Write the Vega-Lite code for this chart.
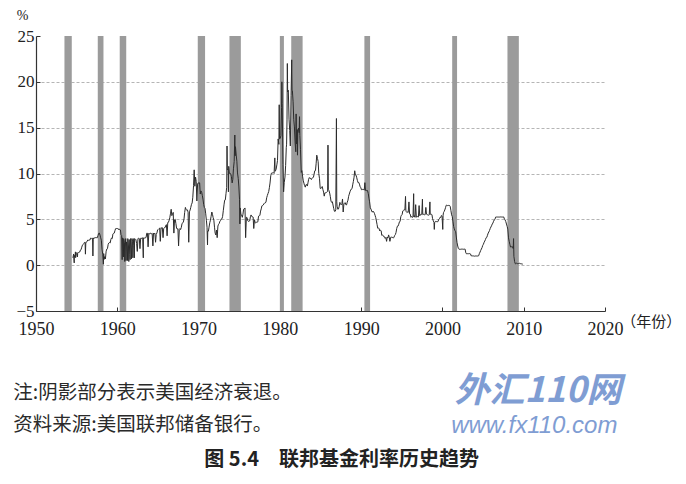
{
  "$schema": "https://vega.github.io/schema/vega-lite/v6.json",
  "width": 569,
  "height": 275,
  "autosize": "none",
  "padding": {"left": 36, "top": 36, "right": 81, "bottom": 173},
  "background": "white",
  "config": {
    "view": {"stroke": null},
    "font": "Liberation Serif"
  },
  "layer": [
    {
      "data": {"values": [
        {"start": 1953.5, "end": 1954.4},
        {"start": 1957.6, "end": 1958.3},
        {"start": 1960.3, "end": 1961.1},
        {"start": 1969.9, "end": 1970.8},
        {"start": 1973.8, "end": 1975.2},
        {"start": 1980.0, "end": 1980.5},
        {"start": 1981.4, "end": 1982.8},
        {"start": 1990.4, "end": 1991.1},
        {"start": 2001.2, "end": 2001.8},
        {"start": 2008.0, "end": 2009.4}
      ]},
      "mark": {"type": "rect", "color": "#9b9b9b"},
      "encoding": {
        "x": {
          "field": "start", "type": "quantitative",
          "scale": {"domain": [1950, 2020], "nice": false, "zero": false},
          "axis": {
            "values": [1950, 1960, 1970, 1980, 1990, 2000, 2010, 2020],
            "format": "d", "title": null, "grid": false,
            "domainColor": "#333", "domainWidth": 1.2,
            "tickColor": "#333", "tickSize": -4,
            "labelFont": "Liberation Serif", "labelFontSize": 18, "labelColor": "#222",
            "labelPadding": 13, "labelFlush": false
          }
        },
        "x2": {"field": "end"}
      }
    },
    {
      "data": {"values": [
        {"t": 1954.54, "v": 0.8}, {"t": 1954.63, "v": 1.22}, {"t": 1954.7, "v": 0.25}, {"t": 1954.71, "v": 1.07},
        {"t": 1954.79, "v": 0.85}, {"t": 1954.85, "v": 1.45}, {"t": 1954.88, "v": 0.83}, {"t": 1954.96, "v": 1.28},
        {"t": 1955.04, "v": 1.39}, {"t": 1955.1, "v": 0.9}, {"t": 1955.13, "v": 1.29}, {"t": 1955.21, "v": 1.35}, {"t": 1955.29, "v": 1.43},
        {"t": 1955.38, "v": 1.43}, {"t": 1955.46, "v": 1.64}, {"t": 1955.54, "v": 1.68}, {"t": 1955.63, "v": 1.96},
        {"t": 1955.71, "v": 2.18}, {"t": 1955.79, "v": 2.24}, {"t": 1955.88, "v": 2.35}, {"t": 1955.96, "v": 2.48},
        {"t": 1956.04, "v": 2.45}, {"t": 1956.08, "v": 1.2}, {"t": 1956.13, "v": 2.5}, {"t": 1956.21, "v": 2.5}, {"t": 1956.29, "v": 2.62},
        {"t": 1956.38, "v": 2.75}, {"t": 1956.46, "v": 2.71}, {"t": 1956.54, "v": 2.75}, {"t": 1956.63, "v": 2.73},
        {"t": 1956.71, "v": 2.95}, {"t": 1956.79, "v": 2.96}, {"t": 1956.88, "v": 2.88}, {"t": 1956.96, "v": 2.94},
        {"t": 1957.0, "v": 1.0}, {"t": 1957.04, "v": 2.84}, {"t": 1957.13, "v": 3.0}, {"t": 1957.21, "v": 2.96}, {"t": 1957.29, "v": 3.0},
        {"t": 1957.38, "v": 3.0}, {"t": 1957.46, "v": 3.0}, {"t": 1957.54, "v": 2.99}, {"t": 1957.63, "v": 3.24},
        {"t": 1957.71, "v": 3.47}, {"t": 1957.79, "v": 3.5}, {"t": 1957.88, "v": 3.28}, {"t": 1957.96, "v": 2.98},
        {"t": 1958.04, "v": 2.72}, {"t": 1958.13, "v": 1.67}, {"t": 1958.21, "v": 1.2}, {"t": 1958.29, "v": 0.1},
        {"t": 1958.33, "v": 1.26}, {"t": 1958.38, "v": 0.63}, {"t": 1958.46, "v": 0.93}, {"t": 1958.54, "v": 0.68},
        {"t": 1958.63, "v": 1.53}, {"t": 1958.71, "v": 1.76}, {"t": 1958.79, "v": 1.8}, {"t": 1958.88, "v": 2.27},
        {"t": 1958.96, "v": 2.42}, {"t": 1959.04, "v": 2.48}, {"t": 1959.13, "v": 2.43}, {"t": 1959.21, "v": 2.8},
        {"t": 1959.29, "v": 2.96}, {"t": 1959.38, "v": 2.9}, {"t": 1959.46, "v": 3.39}, {"t": 1959.54, "v": 3.47},
        {"t": 1959.63, "v": 3.5}, {"t": 1959.71, "v": 3.76}, {"t": 1959.79, "v": 3.98}, {"t": 1959.88, "v": 4.0},
        {"t": 1959.96, "v": 3.99}, {"t": 1960.04, "v": 3.99}, {"t": 1960.13, "v": 3.97}, {"t": 1960.21, "v": 3.84},
        {"t": 1960.29, "v": 3.92}, {"t": 1960.38, "v": 3.85}, {"t": 1960.46, "v": 3.32}, {"t": 1960.54, "v": 3.23},
        {"t": 1960.6, "v": 0.6}, {"t": 1960.63, "v": 2.98}, {"t": 1960.71, "v": 2.6}, {"t": 1960.75, "v": 0.9}, {"t": 1960.79, "v": 2.9},
        {"t": 1960.88, "v": 2.44}, {"t": 1960.92, "v": 0.4}, {"t": 1960.96, "v": 1.98}, {"t": 1961.04, "v": 2.9}, {"t": 1961.08, "v": 0.5},
        {"t": 1961.13, "v": 2.54}, {"t": 1961.21, "v": 2.02}, {"t": 1961.25, "v": 0.5}, {"t": 1961.29, "v": 2.9},
        {"t": 1961.38, "v": 1.98}, {"t": 1961.42, "v": 0.4}, {"t": 1961.46, "v": 2.8}, {"t": 1961.54, "v": 1.17},
        {"t": 1961.58, "v": 0.6}, {"t": 1961.63, "v": 2.9}, {"t": 1961.71, "v": 1.88}, {"t": 1961.75, "v": 0.7},
        {"t": 1961.79, "v": 2.9}, {"t": 1961.88, "v": 2.61}, {"t": 1961.92, "v": 0.8}, {"t": 1961.96, "v": 2.9},
        {"t": 1962.04, "v": 2.15}, {"t": 1962.1, "v": 0.8}, {"t": 1962.13, "v": 2.9}, {"t": 1962.21, "v": 2.85}, {"t": 1962.29, "v": 2.78},
        {"t": 1962.38, "v": 2.36}, {"t": 1962.46, "v": 1.5}, {"t": 1962.54, "v": 2.9}, {"t": 1962.63, "v": 2.93},
        {"t": 1962.71, "v": 2.9}, {"t": 1962.79, "v": 1.8}, {"t": 1962.88, "v": 2.94}, {"t": 1962.96, "v": 2.93},
        {"t": 1963.04, "v": 2.92}, {"t": 1963.13, "v": 3.0}, {"t": 1963.2, "v": 0.8}, {"t": 1963.21, "v": 2.98}, {"t": 1963.29, "v": 2.9},
        {"t": 1963.38, "v": 3.0}, {"t": 1963.46, "v": 2.99}, {"t": 1963.54, "v": 3.02}, {"t": 1963.63, "v": 3.49},
        {"t": 1963.71, "v": 3.48}, {"t": 1963.79, "v": 2.0}, {"t": 1963.88, "v": 3.48}, {"t": 1963.96, "v": 3.38},
        {"t": 1964.04, "v": 3.48}, {"t": 1964.13, "v": 3.48}, {"t": 1964.21, "v": 3.43}, {"t": 1964.29, "v": 3.47},
        {"t": 1964.38, "v": 2.1}, {"t": 1964.46, "v": 3.5}, {"t": 1964.54, "v": 3.42}, {"t": 1964.63, "v": 3.5},
        {"t": 1964.71, "v": 2.5}, {"t": 1964.79, "v": 3.36}, {"t": 1964.88, "v": 3.52}, {"t": 1964.96, "v": 3.85},
        {"t": 1965.04, "v": 3.9}, {"t": 1965.13, "v": 3.98}, {"t": 1965.21, "v": 4.04}, {"t": 1965.29, "v": 2.6},
        {"t": 1965.38, "v": 4.1}, {"t": 1965.46, "v": 4.04}, {"t": 1965.54, "v": 4.09}, {"t": 1965.63, "v": 3.0},
        {"t": 1965.71, "v": 4.01}, {"t": 1965.79, "v": 4.08}, {"t": 1965.88, "v": 4.1}, {"t": 1965.96, "v": 4.32},
        {"t": 1966.04, "v": 4.42}, {"t": 1966.13, "v": 3.2}, {"t": 1966.21, "v": 4.65}, {"t": 1966.29, "v": 4.67},
        {"t": 1966.38, "v": 4.9}, {"t": 1966.46, "v": 5.17}, {"t": 1966.54, "v": 5.6}, {"t": 1966.63, "v": 6.1},
        {"t": 1966.71, "v": 5.4}, {"t": 1966.79, "v": 5.53}, {"t": 1966.88, "v": 5.76}, {"t": 1966.96, "v": 3.5},
        {"t": 1967.04, "v": 4.94}, {"t": 1967.13, "v": 5.0}, {"t": 1967.21, "v": 4.53}, {"t": 1967.29, "v": 4.05},
        {"t": 1967.38, "v": 3.94}, {"t": 1967.46, "v": 3.98}, {"t": 1967.54, "v": 2.1}, {"t": 1967.63, "v": 3.9},
        {"t": 1967.71, "v": 3.99}, {"t": 1967.79, "v": 3.88}, {"t": 1967.88, "v": 4.13}, {"t": 1967.96, "v": 4.51},
        {"t": 1968.04, "v": 4.61}, {"t": 1968.13, "v": 4.71}, {"t": 1968.21, "v": 5.05}, {"t": 1968.29, "v": 5.76},
        {"t": 1968.38, "v": 6.3}, {"t": 1968.46, "v": 6.07}, {"t": 1968.54, "v": 6.02}, {"t": 1968.63, "v": 6.03},
        {"t": 1968.71, "v": 5.78}, {"t": 1968.79, "v": 2.5}, {"t": 1968.88, "v": 5.82}, {"t": 1968.96, "v": 6.02},
        {"t": 1969.04, "v": 6.3}, {"t": 1969.13, "v": 6.64}, {"t": 1969.21, "v": 6.79}, {"t": 1969.29, "v": 7.41},
        {"t": 1969.38, "v": 8.67}, {"t": 1969.46, "v": 10.4}, {"t": 1969.54, "v": 8.61}, {"t": 1969.63, "v": 9.6},
        {"t": 1969.71, "v": 9.15}, {"t": 1969.79, "v": 7.0}, {"t": 1969.88, "v": 8.85}, {"t": 1969.96, "v": 8.97},
        {"t": 1970.04, "v": 8.98}, {"t": 1970.13, "v": 8.98}, {"t": 1970.21, "v": 7.76}, {"t": 1970.29, "v": 8.1},
        {"t": 1970.38, "v": 7.95}, {"t": 1970.46, "v": 7.61}, {"t": 1970.54, "v": 7.21}, {"t": 1970.63, "v": 6.61},
        {"t": 1970.71, "v": 6.29}, {"t": 1970.79, "v": 6.2}, {"t": 1970.88, "v": 5.6}, {"t": 1970.96, "v": 4.9},
        {"t": 1971.04, "v": 4.14}, {"t": 1971.1, "v": 2.2}, {"t": 1971.13, "v": 3.72}, {"t": 1971.21, "v": 3.71}, {"t": 1971.29, "v": 4.15},
        {"t": 1971.38, "v": 4.63}, {"t": 1971.46, "v": 4.91}, {"t": 1971.54, "v": 5.31}, {"t": 1971.63, "v": 5.8},
        {"t": 1971.71, "v": 5.55}, {"t": 1971.79, "v": 5.2}, {"t": 1971.88, "v": 4.91}, {"t": 1971.96, "v": 4.14},
        {"t": 1972.04, "v": 3.5}, {"t": 1972.13, "v": 3.29}, {"t": 1972.21, "v": 3.83}, {"t": 1972.29, "v": 3.0},
        {"t": 1972.38, "v": 4.27}, {"t": 1972.46, "v": 4.46}, {"t": 1972.54, "v": 4.55}, {"t": 1972.63, "v": 4.8},
        {"t": 1972.71, "v": 4.87}, {"t": 1972.79, "v": 5.04}, {"t": 1972.88, "v": 5.06}, {"t": 1972.96, "v": 5.33},
        {"t": 1973.04, "v": 5.94}, {"t": 1973.13, "v": 6.58}, {"t": 1973.21, "v": 7.09}, {"t": 1973.29, "v": 7.12},
        {"t": 1973.38, "v": 7.84}, {"t": 1973.46, "v": 8.49}, {"t": 1973.5, "v": 13.0}, {"t": 1973.54, "v": 10.4},
        {"t": 1973.63, "v": 10.5}, {"t": 1973.67, "v": 8.0}, {"t": 1973.71, "v": 10.78}, {"t": 1973.79, "v": 10.01},
        {"t": 1973.88, "v": 10.03}, {"t": 1973.96, "v": 9.95}, {"t": 1974.04, "v": 9.65}, {"t": 1974.13, "v": 8.97},
        {"t": 1974.21, "v": 9.35}, {"t": 1974.29, "v": 10.51}, {"t": 1974.38, "v": 11.31}, {"t": 1974.46, "v": 14.2},
        {"t": 1974.5, "v": 11.93}, {"t": 1974.54, "v": 12.92}, {"t": 1974.63, "v": 12.01}, {"t": 1974.71, "v": 11.34},
        {"t": 1974.79, "v": 10.06}, {"t": 1974.88, "v": 9.45}, {"t": 1974.96, "v": 8.53}, {"t": 1975.04, "v": 7.13},
        {"t": 1975.08, "v": 4.5}, {"t": 1975.13, "v": 6.24}, {"t": 1975.21, "v": 5.54}, {"t": 1975.29, "v": 5.49}, {"t": 1975.38, "v": 5.22},
        {"t": 1975.46, "v": 5.55}, {"t": 1975.54, "v": 6.1}, {"t": 1975.63, "v": 6.14}, {"t": 1975.71, "v": 6.24},
        {"t": 1975.79, "v": 3.0}, {"t": 1975.88, "v": 5.22}, {"t": 1975.96, "v": 5.2}, {"t": 1976.04, "v": 4.87},
        {"t": 1976.13, "v": 4.77}, {"t": 1976.21, "v": 4.84}, {"t": 1976.29, "v": 4.82}, {"t": 1976.38, "v": 5.29},
        {"t": 1976.46, "v": 5.48}, {"t": 1976.54, "v": 5.31}, {"t": 1976.63, "v": 5.29}, {"t": 1976.71, "v": 5.25},
        {"t": 1976.79, "v": 4.0}, {"t": 1976.88, "v": 4.95}, {"t": 1976.96, "v": 4.65}, {"t": 1977.04, "v": 4.61},
        {"t": 1977.13, "v": 4.68}, {"t": 1977.21, "v": 4.69}, {"t": 1977.29, "v": 4.73}, {"t": 1977.38, "v": 5.35},
        {"t": 1977.46, "v": 5.39}, {"t": 1977.54, "v": 5.42}, {"t": 1977.63, "v": 5.9}, {"t": 1977.71, "v": 6.14},
        {"t": 1977.79, "v": 6.47}, {"t": 1977.88, "v": 6.51}, {"t": 1977.96, "v": 6.56}, {"t": 1978.04, "v": 6.7},
        {"t": 1978.13, "v": 6.78}, {"t": 1978.21, "v": 6.79}, {"t": 1978.29, "v": 6.89}, {"t": 1978.38, "v": 7.36},
        {"t": 1978.46, "v": 7.6}, {"t": 1978.54, "v": 7.81}, {"t": 1978.63, "v": 8.04}, {"t": 1978.71, "v": 8.45},
        {"t": 1978.79, "v": 8.96}, {"t": 1978.88, "v": 9.76}, {"t": 1978.96, "v": 10.03}, {"t": 1979.04, "v": 10.07},
        {"t": 1979.13, "v": 10.06}, {"t": 1979.21, "v": 10.09}, {"t": 1979.29, "v": 10.01}, {"t": 1979.38, "v": 11.7},
        {"t": 1979.42, "v": 10.24}, {"t": 1979.46, "v": 10.29}, {"t": 1979.54, "v": 10.47}, {"t": 1979.63, "v": 10.94},
        {"t": 1979.71, "v": 11.43}, {"t": 1979.79, "v": 13.77}, {"t": 1979.88, "v": 13.18}, {"t": 1979.92, "v": 17.5},
        {"t": 1979.96, "v": 13.78}, {"t": 1980.04, "v": 13.82}, {"t": 1980.13, "v": 14.13}, {"t": 1980.21, "v": 17.19},
        {"t": 1980.25, "v": 20.0}, {"t": 1980.29, "v": 17.61}, {"t": 1980.38, "v": 10.98}, {"t": 1980.46, "v": 8.0},
        {"t": 1980.54, "v": 9.03}, {"t": 1980.63, "v": 9.61}, {"t": 1980.71, "v": 10.87}, {"t": 1980.79, "v": 12.81},
        {"t": 1980.83, "v": 13.2}, {"t": 1980.88, "v": 15.85}, {"t": 1980.92, "v": 22.0}, {"t": 1980.96, "v": 18.9},
        {"t": 1981.04, "v": 19.08}, {"t": 1981.13, "v": 15.93}, {"t": 1981.21, "v": 14.7}, {"t": 1981.29, "v": 13.0},
        {"t": 1981.38, "v": 18.52}, {"t": 1981.46, "v": 22.4}, {"t": 1981.5, "v": 19.1}, {"t": 1981.54, "v": 19.04},
        {"t": 1981.63, "v": 17.82}, {"t": 1981.71, "v": 15.87}, {"t": 1981.79, "v": 15.08}, {"t": 1981.88, "v": 13.31},
        {"t": 1981.96, "v": 12.37}, {"t": 1982.0, "v": 16.5}, {"t": 1982.04, "v": 13.22}, {"t": 1982.13, "v": 14.78},
        {"t": 1982.17, "v": 12.0}, {"t": 1982.21, "v": 14.68}, {"t": 1982.29, "v": 14.94}, {"t": 1982.38, "v": 14.45},
        {"t": 1982.42, "v": 16.2}, {"t": 1982.46, "v": 14.15}, {"t": 1982.54, "v": 12.59}, {"t": 1982.63, "v": 10.12},
        {"t": 1982.71, "v": 10.31}, {"t": 1982.79, "v": 9.71}, {"t": 1982.88, "v": 9.2}, {"t": 1982.96, "v": 8.95},
        {"t": 1983.04, "v": 8.68}, {"t": 1983.13, "v": 8.51}, {"t": 1983.21, "v": 8.77}, {"t": 1983.29, "v": 8.8},
        {"t": 1983.38, "v": 8.63}, {"t": 1983.46, "v": 8.98}, {"t": 1983.54, "v": 9.37}, {"t": 1983.63, "v": 9.56},
        {"t": 1983.71, "v": 9.45}, {"t": 1983.79, "v": 9.48}, {"t": 1983.88, "v": 9.34}, {"t": 1983.96, "v": 9.47},
        {"t": 1984.04, "v": 9.56}, {"t": 1984.13, "v": 9.59}, {"t": 1984.21, "v": 9.91}, {"t": 1984.29, "v": 10.29},
        {"t": 1984.38, "v": 10.32}, {"t": 1984.46, "v": 11.06}, {"t": 1984.54, "v": 12.0}, {"t": 1984.63, "v": 11.64},
        {"t": 1984.71, "v": 11.3}, {"t": 1984.79, "v": 9.99}, {"t": 1984.88, "v": 9.43}, {"t": 1984.96, "v": 8.38},
        {"t": 1985.04, "v": 8.35}, {"t": 1985.13, "v": 8.5}, {"t": 1985.21, "v": 8.58}, {"t": 1985.29, "v": 8.27},
        {"t": 1985.38, "v": 7.97}, {"t": 1985.46, "v": 7.53}, {"t": 1985.54, "v": 7.88}, {"t": 1985.63, "v": 7.9},
        {"t": 1985.71, "v": 7.92}, {"t": 1985.79, "v": 7.99}, {"t": 1985.88, "v": 8.05}, {"t": 1985.92, "v": 13.1},
        {"t": 1985.96, "v": 8.27}, {"t": 1986.04, "v": 8.14}, {"t": 1986.13, "v": 7.86}, {"t": 1986.21, "v": 7.48},
        {"t": 1986.29, "v": 6.99}, {"t": 1986.38, "v": 6.85}, {"t": 1986.46, "v": 6.92}, {"t": 1986.54, "v": 6.56},
        {"t": 1986.63, "v": 6.17}, {"t": 1986.71, "v": 5.89}, {"t": 1986.79, "v": 5.85}, {"t": 1986.88, "v": 6.04},
        {"t": 1986.96, "v": 16.0}, {"t": 1987.0, "v": 6.91}, {"t": 1987.04, "v": 6.43}, {"t": 1987.13, "v": 6.1},
        {"t": 1987.21, "v": 6.13}, {"t": 1987.29, "v": 6.37}, {"t": 1987.38, "v": 6.85}, {"t": 1987.46, "v": 6.73},
        {"t": 1987.54, "v": 6.58}, {"t": 1987.63, "v": 6.73}, {"t": 1987.71, "v": 7.22}, {"t": 1987.79, "v": 5.8},
        {"t": 1987.88, "v": 6.69}, {"t": 1987.96, "v": 6.77}, {"t": 1988.04, "v": 6.83}, {"t": 1988.13, "v": 6.58},
        {"t": 1988.21, "v": 6.58}, {"t": 1988.29, "v": 6.87}, {"t": 1988.38, "v": 7.09}, {"t": 1988.46, "v": 7.51},
        {"t": 1988.54, "v": 7.75}, {"t": 1988.63, "v": 8.01}, {"t": 1988.71, "v": 8.19}, {"t": 1988.79, "v": 8.3},
        {"t": 1988.88, "v": 8.35}, {"t": 1988.96, "v": 8.76}, {"t": 1989.04, "v": 9.12}, {"t": 1989.13, "v": 9.6},
        {"t": 1989.21, "v": 10.3}, {"t": 1989.29, "v": 9.84}, {"t": 1989.38, "v": 9.81}, {"t": 1989.46, "v": 9.53},
        {"t": 1989.54, "v": 9.24}, {"t": 1989.63, "v": 8.99}, {"t": 1989.71, "v": 9.02}, {"t": 1989.79, "v": 8.84},
        {"t": 1989.88, "v": 8.55}, {"t": 1989.96, "v": 8.45}, {"t": 1990.04, "v": 8.23}, {"t": 1990.13, "v": 8.24},
        {"t": 1990.21, "v": 8.28}, {"t": 1990.29, "v": 8.26}, {"t": 1990.38, "v": 8.18}, {"t": 1990.46, "v": 9.0},
        {"t": 1990.54, "v": 8.15}, {"t": 1990.63, "v": 8.13}, {"t": 1990.71, "v": 8.2}, {"t": 1990.79, "v": 8.11},
        {"t": 1990.88, "v": 7.81}, {"t": 1990.96, "v": 7.31}, {"t": 1991.04, "v": 6.91}, {"t": 1991.13, "v": 6.25},
        {"t": 1991.21, "v": 6.12}, {"t": 1991.29, "v": 5.91}, {"t": 1991.38, "v": 5.78}, {"t": 1991.46, "v": 5.9},
        {"t": 1991.54, "v": 5.82}, {"t": 1991.63, "v": 5.66}, {"t": 1991.71, "v": 5.45}, {"t": 1991.79, "v": 5.21},
        {"t": 1991.88, "v": 4.81}, {"t": 1991.96, "v": 4.43}, {"t": 1992.04, "v": 4.03}, {"t": 1992.13, "v": 4.06},
        {"t": 1992.21, "v": 3.98}, {"t": 1992.29, "v": 3.73}, {"t": 1992.38, "v": 3.82}, {"t": 1992.46, "v": 3.76},
        {"t": 1992.54, "v": 3.25}, {"t": 1992.63, "v": 3.3}, {"t": 1992.71, "v": 3.22}, {"t": 1992.79, "v": 3.1},
        {"t": 1992.88, "v": 3.09}, {"t": 1992.96, "v": 2.92}, {"t": 1993.04, "v": 3.02}, {"t": 1993.13, "v": 2.6},
        {"t": 1993.21, "v": 3.07}, {"t": 1993.29, "v": 2.96}, {"t": 1993.38, "v": 3.3}, {"t": 1993.46, "v": 3.04},
        {"t": 1993.54, "v": 2.6}, {"t": 1993.63, "v": 3.03}, {"t": 1993.71, "v": 3.09}, {"t": 1993.79, "v": 2.99},
        {"t": 1993.88, "v": 3.02}, {"t": 1993.96, "v": 2.96}, {"t": 1994.04, "v": 3.05}, {"t": 1994.13, "v": 3.25},
        {"t": 1994.21, "v": 3.34}, {"t": 1994.29, "v": 3.56}, {"t": 1994.38, "v": 4.01}, {"t": 1994.46, "v": 4.25},
        {"t": 1994.54, "v": 4.26}, {"t": 1994.63, "v": 4.47}, {"t": 1994.71, "v": 4.73}, {"t": 1994.79, "v": 4.76},
        {"t": 1994.88, "v": 5.29}, {"t": 1994.96, "v": 5.45}, {"t": 1995.04, "v": 5.53}, {"t": 1995.13, "v": 5.92},
        {"t": 1995.21, "v": 5.98}, {"t": 1995.29, "v": 6.05}, {"t": 1995.38, "v": 6.01}, {"t": 1995.46, "v": 7.5},
        {"t": 1995.5, "v": 6.0}, {"t": 1995.54, "v": 5.85}, {"t": 1995.63, "v": 5.74}, {"t": 1995.71, "v": 5.8},
        {"t": 1995.79, "v": 5.76}, {"t": 1995.88, "v": 6.9}, {"t": 1995.96, "v": 5.6}, {"t": 1996.04, "v": 5.56},
        {"t": 1996.13, "v": 5.22}, {"t": 1996.21, "v": 5.31}, {"t": 1996.29, "v": 5.22}, {"t": 1996.38, "v": 5.24},
        {"t": 1996.46, "v": 7.8}, {"t": 1996.5, "v": 5.27}, {"t": 1996.54, "v": 5.4}, {"t": 1996.63, "v": 5.22},
        {"t": 1996.71, "v": 6.6}, {"t": 1996.79, "v": 5.24}, {"t": 1996.88, "v": 5.31}, {"t": 1996.96, "v": 5.29},
        {"t": 1997.04, "v": 5.25}, {"t": 1997.13, "v": 6.5}, {"t": 1997.21, "v": 5.39}, {"t": 1997.29, "v": 5.51},
        {"t": 1997.38, "v": 5.5}, {"t": 1997.46, "v": 5.56}, {"t": 1997.54, "v": 7.2}, {"t": 1997.58, "v": 5.52},
        {"t": 1997.63, "v": 5.54}, {"t": 1997.71, "v": 5.54}, {"t": 1997.79, "v": 5.5}, {"t": 1997.88, "v": 5.52},
        {"t": 1997.96, "v": 6.3}, {"t": 1998.04, "v": 5.56}, {"t": 1998.13, "v": 5.51}, {"t": 1998.21, "v": 5.49},
        {"t": 1998.29, "v": 5.45}, {"t": 1998.38, "v": 5.49}, {"t": 1998.46, "v": 6.9}, {"t": 1998.5, "v": 5.56},
        {"t": 1998.54, "v": 5.54}, {"t": 1998.63, "v": 5.55}, {"t": 1998.71, "v": 5.51}, {"t": 1998.79, "v": 5.07},
        {"t": 1998.88, "v": 4.83}, {"t": 1998.96, "v": 4.68}, {"t": 1999.0, "v": 3.9}, {"t": 1999.04, "v": 4.63},
        {"t": 1999.13, "v": 4.76}, {"t": 1999.21, "v": 4.81}, {"t": 1999.29, "v": 4.74}, {"t": 1999.38, "v": 4.74},
        {"t": 1999.46, "v": 4.76}, {"t": 1999.54, "v": 4.99}, {"t": 1999.63, "v": 5.07}, {"t": 1999.71, "v": 5.22},
        {"t": 1999.79, "v": 5.2}, {"t": 1999.88, "v": 5.42}, {"t": 1999.96, "v": 5.3}, {"t": 2000.04, "v": 3.9},
        {"t": 2000.08, "v": 5.45}, {"t": 2000.13, "v": 5.73}, {"t": 2000.21, "v": 5.85}, {"t": 2000.29, "v": 6.02},
        {"t": 2000.38, "v": 6.27}, {"t": 2000.46, "v": 6.53}, {"t": 2000.54, "v": 6.54}, {"t": 2000.63, "v": 6.5},
        {"t": 2000.71, "v": 6.52}, {"t": 2000.79, "v": 6.51}, {"t": 2000.88, "v": 6.51}, {"t": 2000.96, "v": 6.4},
        {"t": 2001.04, "v": 5.98}, {"t": 2001.13, "v": 5.49}, {"t": 2001.21, "v": 5.31}, {"t": 2001.29, "v": 4.8},
        {"t": 2001.38, "v": 4.21}, {"t": 2001.46, "v": 3.97}, {"t": 2001.54, "v": 3.77}, {"t": 2001.63, "v": 3.65},
        {"t": 2001.71, "v": 3.07}, {"t": 2001.79, "v": 2.49}, {"t": 2001.88, "v": 2.09}, {"t": 2001.96, "v": 1.82},
        {"t": 2002.04, "v": 1.73}, {"t": 2002.13, "v": 1.74}, {"t": 2002.21, "v": 1.73}, {"t": 2002.29, "v": 1.75},
        {"t": 2002.38, "v": 1.75}, {"t": 2002.46, "v": 1.75}, {"t": 2002.54, "v": 1.73}, {"t": 2002.63, "v": 1.74},
        {"t": 2002.71, "v": 1.75}, {"t": 2002.79, "v": 1.75}, {"t": 2002.88, "v": 1.34}, {"t": 2002.96, "v": 1.24},
        {"t": 2003.04, "v": 1.24}, {"t": 2003.13, "v": 1.26}, {"t": 2003.21, "v": 1.25}, {"t": 2003.29, "v": 1.26},
        {"t": 2003.38, "v": 1.26}, {"t": 2003.46, "v": 1.22}, {"t": 2003.54, "v": 1.01}, {"t": 2003.63, "v": 1.03},
        {"t": 2003.71, "v": 1.01}, {"t": 2003.79, "v": 1.01}, {"t": 2003.88, "v": 1.0}, {"t": 2003.96, "v": 0.98},
        {"t": 2004.04, "v": 1.0}, {"t": 2004.13, "v": 1.01}, {"t": 2004.21, "v": 1.0}, {"t": 2004.29, "v": 1.0},
        {"t": 2004.38, "v": 1.0}, {"t": 2004.46, "v": 1.03}, {"t": 2004.54, "v": 1.26}, {"t": 2004.63, "v": 1.43},
        {"t": 2004.71, "v": 1.61}, {"t": 2004.79, "v": 1.76}, {"t": 2004.88, "v": 1.93}, {"t": 2004.96, "v": 2.16},
        {"t": 2005.04, "v": 2.28}, {"t": 2005.13, "v": 2.5}, {"t": 2005.21, "v": 2.63}, {"t": 2005.29, "v": 2.79},
        {"t": 2005.38, "v": 3.0}, {"t": 2005.46, "v": 3.04}, {"t": 2005.54, "v": 3.26}, {"t": 2005.63, "v": 3.5},
        {"t": 2005.71, "v": 3.62}, {"t": 2005.79, "v": 3.78}, {"t": 2005.88, "v": 4.0}, {"t": 2005.96, "v": 4.16},
        {"t": 2006.04, "v": 4.29}, {"t": 2006.13, "v": 4.49}, {"t": 2006.21, "v": 4.59}, {"t": 2006.29, "v": 4.79},
        {"t": 2006.38, "v": 4.94}, {"t": 2006.46, "v": 4.99}, {"t": 2006.54, "v": 5.24}, {"t": 2006.63, "v": 5.25},
        {"t": 2006.71, "v": 5.25}, {"t": 2006.79, "v": 5.25}, {"t": 2006.88, "v": 5.25}, {"t": 2006.96, "v": 5.24},
        {"t": 2007.04, "v": 5.25}, {"t": 2007.13, "v": 5.26}, {"t": 2007.21, "v": 5.26}, {"t": 2007.29, "v": 5.25},
        {"t": 2007.38, "v": 5.25}, {"t": 2007.46, "v": 5.25}, {"t": 2007.54, "v": 5.26}, {"t": 2007.63, "v": 5.02},
        {"t": 2007.71, "v": 4.94}, {"t": 2007.79, "v": 4.76}, {"t": 2007.88, "v": 4.49}, {"t": 2007.96, "v": 4.24},
        {"t": 2008.04, "v": 3.94}, {"t": 2008.13, "v": 2.98}, {"t": 2008.21, "v": 2.61}, {"t": 2008.29, "v": 2.28},
        {"t": 2008.38, "v": 1.98}, {"t": 2008.46, "v": 2.0}, {"t": 2008.54, "v": 2.01}, {"t": 2008.63, "v": 2.0},
        {"t": 2008.71, "v": 1.81}, {"t": 2008.75, "v": 2.9}, {"t": 2008.79, "v": 0.97}, {"t": 2008.88, "v": 0.39}, {"t": 2008.96, "v": 0.16},
        {"t": 2009.04, "v": 0.15}, {"t": 2009.13, "v": 0.22}, {"t": 2009.21, "v": 0.18}, {"t": 2009.29, "v": 0.15},
        {"t": 2009.38, "v": 0.18}, {"t": 2009.46, "v": 0.21}, {"t": 2009.54, "v": 0.16}, {"t": 2009.63, "v": 0.16},
        {"t": 2009.71, "v": 0.15}, {"t": 2009.79, "v": 0.12}, {"t": 2009.88, "v": 0.12}
      ]},
      "mark": {"type": "line", "color": "#2b2b2b", "strokeWidth": 1, "interpolate": "linear"},
      "encoding": {
        "x": {"field": "t", "type": "quantitative"},
        "y": {
          "field": "v", "type": "quantitative",
          "scale": {"domain": [-5, 25], "nice": false, "zero": false},
          "axis": {
            "values": [-5, 0, 5, 10, 15, 20, 25],
            "title": "%", "titleAngle": 0, "titleX": -14, "titleY": -21,
            "titleAlign": "center", "titleBaseline": "middle",
            "titleFont": "Liberation Serif", "titleFontSize": 14, "titleFontWeight": "normal", "titleColor": "#222",
            "grid": true, "gridColor": "#b5b5b5", "gridDash": [3, 2], "gridWidth": 1,
            "gridOpacity": {"condition": {"test": "datum.value == 25 || datum.value == -5", "value": 0}, "value": 1},
            "domainColor": "#333", "domainWidth": 1.2,
            "tickColor": "#333", "tickSize": -4,
            "labelFont": "Liberation Serif", "labelFontSize": 17, "labelColor": "#222",
            "labelPadding": 6
          }
        }
      }
    },
    {
      "data": {"values": [{"x": 2022.0, "y": -6.2, "text": "（年份）"}]},
      "mark": {"type": "text", "align": "left", "baseline": "middle", "font": "Noto Sans CJK SC", "fontSize": 15, "color": "#222"},
      "encoding": {
        "x": {"field": "x", "type": "quantitative"},
        "y": {"field": "y", "type": "quantitative"},
        "text": {"field": "text"}
      }
    },
    {
      "data": {"values": [
        {"x": 1947.2, "y": -13.9, "text": "注:阴影部分表示美国经济衰退。"},
        {"x": 1947.2, "y": -17.4, "text": "资料来源:美国联邦储备银行。"}
      ]},
      "mark": {"type": "text", "align": "left", "baseline": "middle", "font": "Noto Sans CJK SC", "fontSize": 19.5, "color": "#2a2a2a"},
      "encoding": {
        "x": {"field": "x", "type": "quantitative"},
        "y": {"field": "y", "type": "quantitative"},
        "text": {"field": "text"}
      }
    },
    {
      "data": {"values": [{"x": 1987.6, "y": -21.2, "text": "图 5.4　联邦基金利率历史趋势"}]},
      "mark": {"type": "text", "align": "center", "baseline": "middle", "font": "Noto Sans CJK SC", "fontSize": 20, "fontWeight": "bold", "color": "#222"},
      "encoding": {
        "x": {"field": "x", "type": "quantitative"},
        "y": {"field": "y", "type": "quantitative"},
        "text": {"field": "text"}
      }
    },
    {
      "data": {"values": [{"x": 2011.75, "y": -13.7, "text": "外汇110网"}]},
      "mark": {"type": "text", "align": "center", "baseline": "middle", "font": "Noto Sans CJK SC", "fontSize": 35, "fontWeight": "bold", "fontStyle": "italic", "color": "#7f9dd3"},
      "encoding": {
        "x": {"field": "x", "type": "quantitative"},
        "y": {"field": "y", "type": "quantitative"},
        "text": {"field": "text"}
      }
    },
    {
      "data": {"values": [{"x": 2011.3, "y": -17.5, "text": "www.fx110.com"}]},
      "mark": {"type": "text", "align": "center", "baseline": "middle", "font": "Liberation Sans", "fontSize": 24, "fontStyle": "italic", "color": "#7f9dd3"},
      "encoding": {
        "x": {"field": "x", "type": "quantitative"},
        "y": {"field": "y", "type": "quantitative"},
        "text": {"field": "text"}
      }
    }
  ]
}
